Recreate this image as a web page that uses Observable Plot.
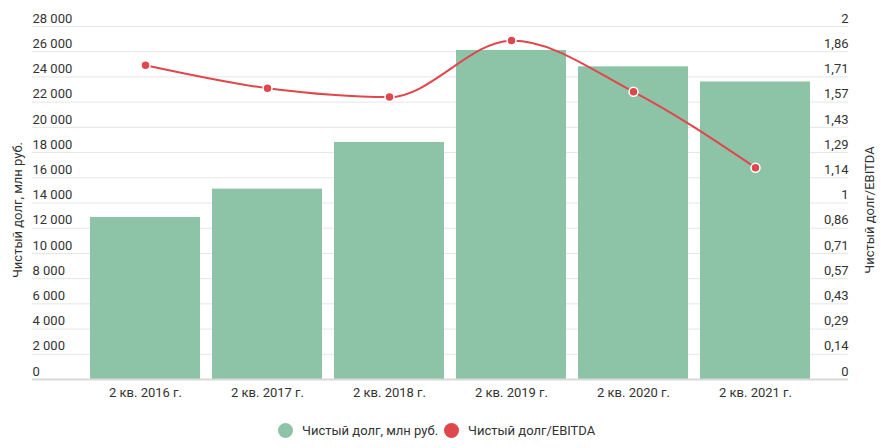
<!DOCTYPE html>
<html>
<head>
<meta charset="utf-8">
<script src="https://cdn.jsdelivr.net/npm/d3@7"></script>
<script src="https://cdn.jsdelivr.net/npm/@observablehq/plot@0.6"></script>
<style>
  body { margin: 0; background: #fff; font-family: Roboto, sans-serif; }
  #legend { position: relative; height: 38px; font-size: 13px; color: #333; }
  .item { position: absolute; top: 13px; display: flex; align-items: center; white-space: nowrap; }
  .sw { width: 15px; height: 15px; border-radius: 50%; margin-right: 9px; }
</style>
</head>
<body>
<div id="chart"></div>
<div id="legend"></div>
<script>
const categories = ["2 кв. 2016 г.", "2 кв. 2017 г.", "2 кв. 2018 г.", "2 кв. 2019 г.", "2 кв. 2020 г.", "2 кв. 2021 г."];
const netDebt = [12850, 15100, 18800, 26100, 24800, 23600];
const debtToEbitda = [1.78, 1.65, 1.60, 1.92, 1.63, 1.20];
const leftTicks = [0, 2000, 4000, 6000, 8000, 10000, 12000, 14000, 16000, 18000, 20000, 22000, 24000, 26000, 28000];
const leftTickLabels = ["0", "2 000", "4 000", "6 000", "8 000", "10 000", "12 000", "14 000", "16 000", "18 000", "20 000", "22 000", "24 000", "26 000", "28 000"];
const rightTickLabels = ["0", "0,14", "0,29", "0,43", "0,57", "0,71", "0,86", "1", "1,14", "1,29", "1,43", "1,57", "1,71", "1,86", "2"];
const seriesNames = ["Чистый долг, млн руб.", "Чистый долг/EBITDA"];
const colors = ["#8dc3a7", "#e0474c"];

const leftMax = 28000, rightMax = 2;
const k = leftMax / rightMax;
const rightTicks = rightTickLabels.map((_, i) => i * rightMax / (rightTickLabels.length - 1));

const data = categories.map((c, i) => ({cat: c, debt: netDebt[i], ratio: debtToEbitda[i]}));
const leftT = leftTicks.map((v, i) => ({v, label: leftTickLabels[i]}));
const rightT = rightTicks.map((v, i) => ({v: v * k, label: rightTickLabels[i]}));

const chart = Plot.plot({
  width: 888,
  height: 410,
  marginLeft: 32,
  marginRight: 40,
  marginTop: 26,
  marginBottom: 31,
  style: {fontFamily: "Roboto, sans-serif", fontSize: "13px", color: "#333", background: "#fff"},
  x: {domain: categories, range: [81.2, 818.8], paddingInner: 0.1, paddingOuter: 0.05, label: null},
  y: {domain: [0, leftMax], axis: null},
  marks: [
    Plot.ruleY(leftTicks, {stroke: "#e6e6e6", strokeWidth: 1}),
    Plot.barY(data, {x: "cat", y: "debt", fill: colors[0]}),
    Plot.ruleY([0], {stroke: "#d9d9d9", strokeWidth: 2}),
    Plot.line(data, {x: "cat", y: d => d.ratio * k, curve: "monotone-x", stroke: colors[1], strokeWidth: 2}),
    Plot.dot(data, {x: "cat", y: d => d.ratio * k, r: 4.5, fill: colors[1], stroke: "#fff", strokeWidth: 1.5}),
    Plot.text(leftT, {y: "v", text: "label", frameAnchor: "left", textAnchor: "start", dy: -8, fill: "#333", fontSize: 13}),
    Plot.text(rightT, {y: "v", text: "label", frameAnchor: "right", textAnchor: "end", dy: -8, fill: "#333", fontSize: 13}),
    Plot.text([seriesNames[0]], {frameAnchor: "left", textAnchor: "middle", dx: -15, dy: 7, rotate: -90, fill: "#333", fontSize: 13}),
    Plot.text([seriesNames[1]], {frameAnchor: "right", textAnchor: "middle", dx: 21, dy: 7, rotate: -90, fill: "#333", fontSize: 13}),
    Plot.axisX({tickSize: 0, tickPadding: 8, fontSize: 13, label: null})
  ]
});
document.getElementById("chart").appendChild(chart);

const legend = document.getElementById("legend");
const lefts = [278, 444];
seriesNames.forEach((n, i) => {
  const it = document.createElement("div");
  it.className = "item";
  it.style.left = lefts[i] + "px";
  it.innerHTML = `<span class="sw" style="background:${colors[i]}"></span><span>${n}</span>`;
  legend.appendChild(it);
});
</script>
</body>
</html>
